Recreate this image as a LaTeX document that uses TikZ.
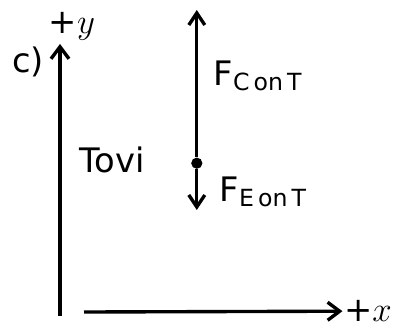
\documentclass[tikz,border=0pt]{standalone}
\usepackage{fontspec}
\setmainfont{DejaVu Sans}
\usetikzlibrary{arrows.meta,positioning}

\begin{document}
\begin{tikzpicture}[
  axis/.style={line width=2.4pt, -{Straight Barb[length=3mm, width=4.5mm]}},
  force/.style={line width=2.4pt, -{Straight Barb[length=3mm, width=4mm]}},
  lbl/.style={font=\fontsize{24}{26}\selectfont, inner sep=1pt},
  dot/.style={circle, fill, inner sep=0pt, minimum size=2.8mm},
]
\useasboundingbox (0,0) rectangle (10,8.2);

% axes
\coordinate (o) at (1.5,0.3);
\coordinate (ytip) at (1.5,7.1);
\coordinate (xstart) at (2.1,0.4);
\node[lbl] (xlbl) at (9.2,0.42) {+$x$};
\node[lbl] (ylbl) at (1.8,7.55) {+$y$};
\node[lbl] (part) at (0.7,6.65) {c)};
\draw[axis] (o) -- (ytip);
\draw[axis] (xstart) -- (xlbl.west);

% object
\node[lbl] (tovi) at (2.8,4.2) {Tovi};

% forces
\node[dot] (obj) at (4.92,4.12) {};
\coordinate (ctip) at (4.92,7.95);
\coordinate (etip) at (4.92,2.95);
\draw[force] (obj) -- (ctip);
\draw[force] (obj) -- (etip);
\node[lbl, anchor=west] (fcont) at (5.3,6.3) {F$_{\mathrm{C\,on\,T}}$};
\node[lbl, anchor=west] (feont) at (5.45,3.4) {F$_{\mathrm{E\,on\,T}}$};

\end{tikzpicture}
\end{document}
